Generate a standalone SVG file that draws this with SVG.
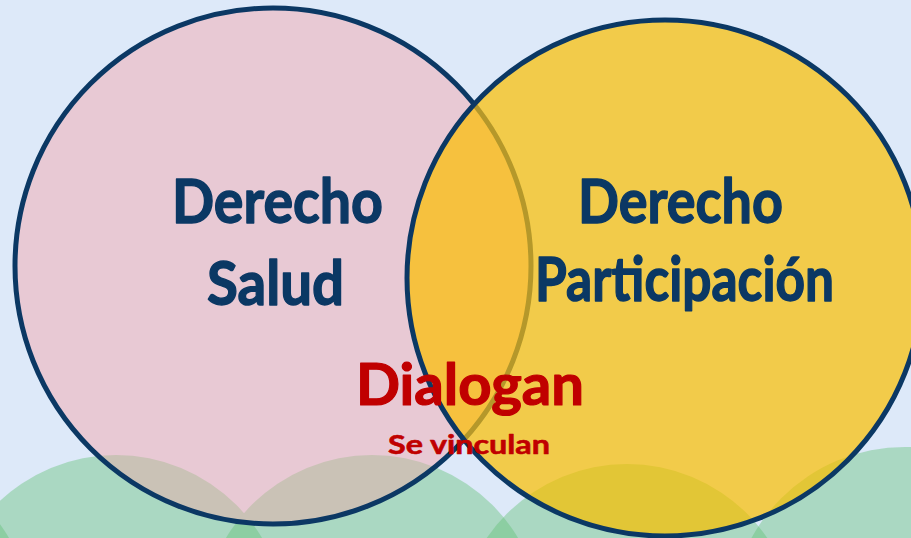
<svg xmlns="http://www.w3.org/2000/svg" width="911" height="538" viewBox="0 0 911 538">
  <style>
    .navy { fill: #0b3864; stroke: #0b3864; stroke-width: 1.4; stroke-linejoin: round; font-family: Lato, "Liberation Sans", sans-serif; font-weight: 700; }
    .red { fill: #c00000; stroke: #c00000; stroke-linejoin: round; font-family: Lato, "Liberation Sans", sans-serif; font-weight: 700; }
    .ring { fill: none; stroke: #0b3864; stroke-width: 5; }
  </style>
  <defs>
    <circle id="cL" cx="273" cy="266" r="258"/>
    <circle id="cR" cx="665" cy="278" r="258"/>
    <g id="greens">
      <circle cx="-137" cy="625" r="170"/>
      <circle cx="116" cy="625" r="170"/>
      <circle cx="372" cy="625" r="170"/>
      <circle cx="627" cy="634" r="170"/>
      <circle cx="905" cy="622" r="175"/>
    </g>
    <clipPath id="clipL"><use href="#cL"/></clipPath>
    <clipPath id="clipR"><use href="#cR"/></clipPath>
  </defs>
  <rect width="911" height="538" fill="#dde9f9"/>
  <g id="background-circles" fill="#60c075" fill-opacity="0.41">
    <use href="#greens"/>
  </g>
  <g id="node-salud">
    <use href="#cL" fill="#e8c9d4"/>
    <g clip-path="url(#clipL)" fill="#cac2b6"><use href="#greens"/></g>
    <use href="#cL" class="ring"/>
  </g>
  <g id="node-participacion">
    <use href="#cR" fill="#f2cb4a"/>
    <g clip-path="url(#clipR)">
      <use href="#cL" fill="#f6c13e"/>
      <g fill="#e2c636"><use href="#greens"/></g>
      <use href="#cL" fill="none" stroke="#b5982a" stroke-width="5"/>
    </g>
    <use href="#cR" class="ring"/>
  </g>
  <g id="labels">
    <text class="navy" x="172" y="223" font-size="61" textLength="211" lengthAdjust="spacingAndGlyphs">Derecho</text>
    <text class="navy" x="207" y="305" font-size="61" textLength="137" lengthAdjust="spacingAndGlyphs">Salud</text>
    <text class="navy" x="578" y="223" font-size="61" textLength="205" lengthAdjust="spacingAndGlyphs">Derecho</text>
    <text class="navy" x="535" y="301" font-size="61" textLength="299" lengthAdjust="spacingAndGlyphs">Participación</text>
    <text class="red" x="356" y="405" font-size="57" stroke-width="1.2" textLength="228" lengthAdjust="spacingAndGlyphs">Dialogan</text>
    <text class="red" x="388" y="454" font-size="27" stroke-width="0.6" textLength="162" lengthAdjust="spacingAndGlyphs">Se vinculan</text>
  </g>
</svg>
